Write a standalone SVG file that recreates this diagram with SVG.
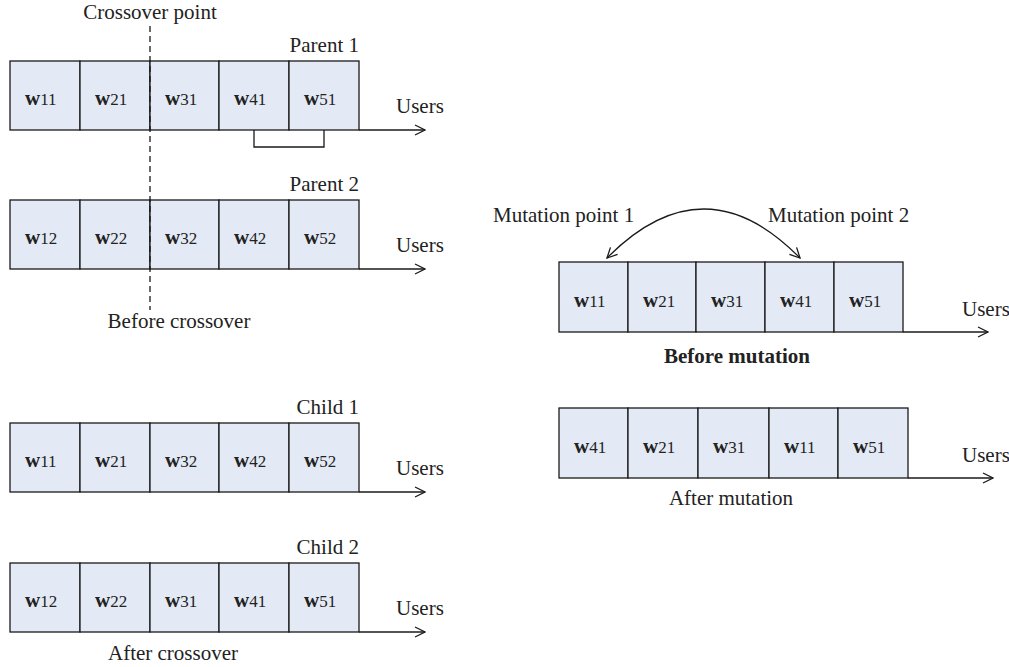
<svg xmlns="http://www.w3.org/2000/svg" width="1009" height="667" viewBox="0 0 1009 667">
<defs>
<style>
.cell{fill:#e4eaf5;stroke:#1a1a1a;stroke-width:1.3}
.t{font-family:"Liberation Serif",serif;font-size:21px;fill:#222}
.w{font-family:"Liberation Serif",serif;font-size:21px;font-weight:bold;fill:#222}
.s{font-family:"Liberation Serif",serif;font-size:17px;font-weight:normal}
.ax{stroke:#1a1a1a;stroke-width:1.3;fill:none}
</style>
<marker id="ah" viewBox="0 0 12 12" refX="11" refY="6" markerWidth="12" markerHeight="12" markerUnits="userSpaceOnUse" orient="auto">
<path d="M1,1 L11,6 L1,11" fill="none" stroke="#1a1a1a" stroke-width="1.3"/>
</marker>
<marker id="ahs" viewBox="0 0 12 12" refX="1" refY="6" markerWidth="12" markerHeight="12" markerUnits="userSpaceOnUse" orient="auto">
<path d="M11,1 L1,6 L11,11" fill="none" stroke="#1a1a1a" stroke-width="1.3"/>
</marker>
</defs>
<rect width="1009" height="667" fill="#fff"/>

<g id="parent1">
<rect class="cell" x="10" y="61" width="70" height="69"/>
<rect class="cell" x="80" y="61" width="70" height="69"/>
<rect class="cell" x="150" y="61" width="69" height="69"/>
<rect class="cell" x="219" y="61" width="70" height="69"/>
<rect class="cell" x="289" y="61" width="70" height="69"/>
<text class="w" x="25" y="105">w<tspan class="s">11</tspan></text>
<text class="w" x="95" y="105">w<tspan class="s">21</tspan></text>
<text class="w" x="165" y="105">w<tspan class="s">31</tspan></text>
<text class="w" x="234" y="105">w<tspan class="s">41</tspan></text>
<text class="w" x="304" y="105">w<tspan class="s">51</tspan></text>
<text class="t" x="359" y="52" text-anchor="end">Parent 1</text>
<text class="t" x="396" y="113">Users</text>
</g>

<g id="parent2">
<rect class="cell" x="10" y="200" width="70" height="69"/>
<rect class="cell" x="80" y="200" width="70" height="69"/>
<rect class="cell" x="150" y="200" width="69" height="69"/>
<rect class="cell" x="219" y="200" width="70" height="69"/>
<rect class="cell" x="289" y="200" width="70" height="69"/>
<text class="w" x="25" y="244">w<tspan class="s">12</tspan></text>
<text class="w" x="95" y="244">w<tspan class="s">22</tspan></text>
<text class="w" x="165" y="244">w<tspan class="s">32</tspan></text>
<text class="w" x="234" y="244">w<tspan class="s">42</tspan></text>
<text class="w" x="304" y="244">w<tspan class="s">52</tspan></text>
<text class="t" x="359" y="191" text-anchor="end">Parent 2</text>
<text class="t" x="396" y="252">Users</text>
</g>

<g id="child1">
<rect class="cell" x="10" y="423" width="70" height="69"/>
<rect class="cell" x="80" y="423" width="70" height="69"/>
<rect class="cell" x="150" y="423" width="69" height="69"/>
<rect class="cell" x="219" y="423" width="70" height="69"/>
<rect class="cell" x="289" y="423" width="70" height="69"/>
<text class="w" x="25" y="467">w<tspan class="s">11</tspan></text>
<text class="w" x="95" y="467">w<tspan class="s">21</tspan></text>
<text class="w" x="165" y="467">w<tspan class="s">32</tspan></text>
<text class="w" x="234" y="467">w<tspan class="s">42</tspan></text>
<text class="w" x="304" y="467">w<tspan class="s">52</tspan></text>
<text class="t" x="359" y="414" text-anchor="end">Child 1</text>
<text class="t" x="396" y="475">Users</text>
</g>

<g id="child2">
<rect class="cell" x="10" y="563" width="70" height="69"/>
<rect class="cell" x="80" y="563" width="70" height="69"/>
<rect class="cell" x="150" y="563" width="69" height="69"/>
<rect class="cell" x="219" y="563" width="70" height="69"/>
<rect class="cell" x="289" y="563" width="70" height="69"/>
<text class="w" x="25" y="607">w<tspan class="s">12</tspan></text>
<text class="w" x="95" y="607">w<tspan class="s">22</tspan></text>
<text class="w" x="165" y="607">w<tspan class="s">31</tspan></text>
<text class="w" x="234" y="607">w<tspan class="s">41</tspan></text>
<text class="w" x="304" y="607">w<tspan class="s">51</tspan></text>
<text class="t" x="359" y="554" text-anchor="end">Child 2</text>
<text class="t" x="396" y="615">Users</text>
</g>

<g id="before-mutation">
<rect class="cell" x="559" y="262" width="69" height="70"/>
<rect class="cell" x="628" y="262" width="68" height="70"/>
<rect class="cell" x="696" y="262" width="69" height="70"/>
<rect class="cell" x="765" y="262" width="69" height="70"/>
<rect class="cell" x="834" y="262" width="69" height="70"/>
<text class="w" x="574" y="307">w<tspan class="s">11</tspan></text>
<text class="w" x="643" y="307">w<tspan class="s">21</tspan></text>
<text class="w" x="711" y="307">w<tspan class="s">31</tspan></text>
<text class="w" x="780" y="307">w<tspan class="s">41</tspan></text>
<text class="w" x="849" y="307">w<tspan class="s">51</tspan></text>
<text class="t" x="962" y="316">Users</text>
<text class="t" x="493" y="222">Mutation point 1</text>
<text class="t" x="768" y="222">Mutation point 2</text>
<text class="t" x="737" y="363" text-anchor="middle" font-weight="bold" font-size="19.5">Before mutation</text>
</g>

<g id="after-mutation">
<rect class="cell" x="559" y="408" width="69" height="70"/>
<rect class="cell" x="628" y="408" width="70" height="70"/>
<rect class="cell" x="698" y="408" width="71" height="70"/>
<rect class="cell" x="769" y="408" width="69" height="70"/>
<rect class="cell" x="838" y="408" width="70" height="70"/>
<text class="w" x="574" y="453">w<tspan class="s">41</tspan></text>
<text class="w" x="643" y="453">w<tspan class="s">21</tspan></text>
<text class="w" x="713" y="453">w<tspan class="s">31</tspan></text>
<text class="w" x="784" y="453">w<tspan class="s">11</tspan></text>
<text class="w" x="853" y="453">w<tspan class="s">51</tspan></text>
<text class="t" x="962" y="462">Users</text>
<text class="t" x="731" y="505" text-anchor="middle">After mutation</text>
</g>

<g id="labels">
<text class="t" x="150" y="19" text-anchor="middle">Crossover point</text>
<text class="t" x="179" y="328" text-anchor="middle">Before crossover</text>
<text class="t" x="173" y="660" text-anchor="middle">After crossover</text>
</g>

<g id="connectors">
<line class="ax" x1="359" y1="130" x2="425" y2="130" marker-end="url(#ah)"/>
<line class="ax" x1="359" y1="269" x2="425" y2="269" marker-end="url(#ah)"/>
<line class="ax" x1="359" y1="492" x2="425" y2="492" marker-end="url(#ah)"/>
<line class="ax" x1="359" y1="632" x2="425" y2="632" marker-end="url(#ah)"/>
<line class="ax" x1="903" y1="332" x2="988" y2="332" marker-end="url(#ah)"/>
<line class="ax" x1="908" y1="478" x2="993" y2="478" marker-end="url(#ah)"/>
<path class="ax" d="M254,130 V147 H324 V130"/>
<line class="ax" x1="150" y1="26" x2="150" y2="310" stroke-dasharray="6,4"/>
<path class="ax" d="M607,258 Q704,160 800,258" marker-start="url(#ahs)" marker-end="url(#ah)"/>
</g>
</svg>
